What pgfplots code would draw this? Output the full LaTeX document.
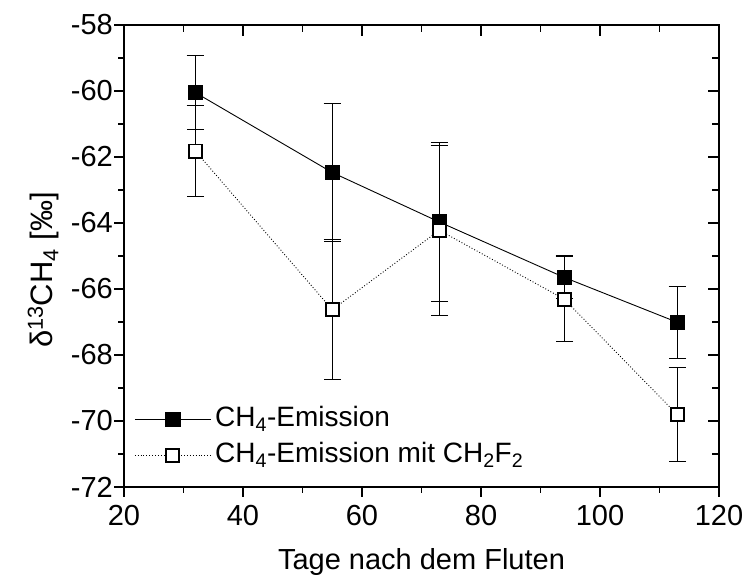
\documentclass[border=0pt]{standalone}
\usepackage{fontspec}
\setmainfont{Liberation Sans}
\usepackage{pgfplots}
\pgfplotsset{compat=1.18}
\begin{document}
\begin{tikzpicture}
\pgfplotsset{
  common/.style={
    scale only axis, width=595pt, height=462pt,
    xmin=20, xmax=120, ymin=-72, ymax=-58,
    xtick={20,40,...,120}, ytick={-72,-70,...,-58},
    minor x tick num=1, minor y tick num=1,
    axis line style={line width=1.4pt},
    tick style={line width=1.4pt, black},
  }
}
\begin{axis}[common,
  yticklabels={-72,-70,-68,-66,-64,-62,-60,-58},
  xtick pos=left, ytick pos=left,
  tick align=outside,
  major tick length=10pt, minor tick length=6pt,
  /pgf/number format/assume math mode=true,
  ticklabel style={font=\fontsize{29}{34}\selectfont},
  yticklabel style={inner xsep=1pt},
  xticklabel style={inner ysep=2pt, yshift=-6pt},
  xlabel={Tage nach dem Fluten},
  ylabel={δ\textsuperscript{13}CH\textsubscript{4} [‰]},
  label style={font=\fontsize{29}{34}\selectfont},
  xlabel style={at={(axis description cs:0.5,0)}, anchor=base, yshift=-82pt},
  ylabel style={at={(axis description cs:-0.121,0.47)}, anchor=base, font=\fontsize{31}{36}\selectfont},
  legend style={at={(axis description cs:0.012,0.107)}, anchor=west, draw=none, fill=none,
    font=\fontsize{28}{33}\selectfont, cells={anchor=west}, row sep=6pt, column sep=4pt,
    nodes={inner sep=0pt, text height=22pt, text depth=8pt}},
  legend image code/.code={\draw[mark repeat=2,mark phase=2,#1] plot coordinates {(0pt,0pt) (38pt,0pt) (76pt,0pt)};},
]
\addplot[black, solid, line width=0.9pt, mark=square*, mark size=7.2pt, mark options={solid, fill=black},
  error bars/.cd, y dir=both, y explicit,
  error bar style={line width=1pt, solid},
  error mark=-, error mark options={rotate=90, mark size=8.7pt, line width=1pt, solid}]
table[x=x, y=y, y error=e] {
x y e
32 -60.05 1.12
55 -62.47 2.08
73 -63.97 2.41
94 -65.65 0.65
113 -67.01 1.09
};
\addlegendentry{CH\textsubscript{4}-Emission}
\addplot[black, dotted, line width=0.9pt, mark=square*, mark size=6.6pt, mark options={solid, fill=white, line width=1.8pt},
  error bars/.cd, y dir=both, y explicit,
  error bar style={line width=1pt, solid},
  error mark=-, error mark options={rotate=90, mark size=8.7pt, line width=1pt, solid}]
table[x=x, y=y, y error=e] {
x y e
32 -61.82 1.38
55 -66.63 2.12
73 -64.22 2.58
94 -66.31 1.29
113 -69.81 1.43
};
\addlegendentry{CH\textsubscript{4}-Emission mit CH\textsubscript{2}F\textsubscript{2}}
\coordinate (bl) at (rel axis cs:0,0);
\coordinate (tr) at (rel axis cs:1,1);
\end{axis}
\begin{axis}[common,
  xtick pos=right, ytick pos=right, tick align=inside,
  xticklabels={}, yticklabels={},
  major tick length=11pt, minor tick length=7pt,
]
\end{axis}
\pgfresetboundingbox
\path ([xshift=-124pt,yshift=-90pt]bl) rectangle ([xshift=27pt,yshift=25pt]tr);
\end{tikzpicture}
\end{document}
